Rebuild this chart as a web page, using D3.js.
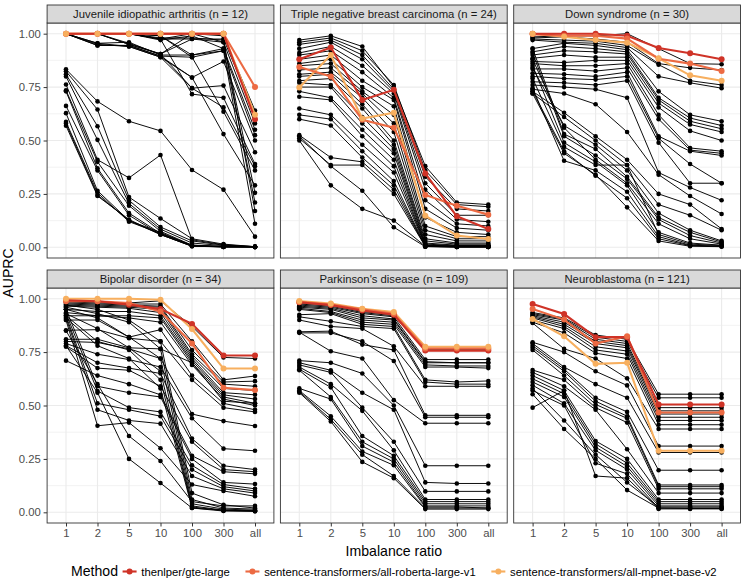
<!DOCTYPE html>
<html>
<head>
<meta charset="utf-8">
<script src="https://cdn.jsdelivr.net/npm/d3@7"></script>
<style>
body { margin: 0; background: #fff; }
text { font-family: "Liberation Sans", Arial, sans-serif; }
</style>
</head>
<body>
<svg id="chart" width="742" height="588"></svg>
<script>
// x categories and y ticks
var ratios = ["1", "2", "5", "10", "100", "300", "all"];
var yTicks = [0, 0.25, 0.5, 0.75, 1];
var yMinor = [0.125, 0.375, 0.625, 0.875];

var methods = ["thenlper/gte-large", "sentence-transformers/all-roberta-large-v1", "sentence-transformers/all-mpnet-base-v2"];
var methodColors = ["#cf3327", "#ec6a43", "#f7af5f"];

var panelTitles = [
    "Juvenile idiopathic arthritis (n = 12)",
    "Triple negative breast carcinoma (n = 24)",
    "Down syndrome (n = 30)",
    "Bipolar disorder (n = 34)",
    "Parkinson's disease (n = 109)",
    "Neuroblastoma (n = 121)"
];

// highlighted methods per panel, in the order of `methods`
var jiaTop = [
    [1, 1, 1, 1, 1, 1, 0.60],
    [1, 1, 1, 1, 1, 1, 0.75],
    [1, 1, 1, 1, 1, 1, 0.62]
];
var tnbcTop = [
    [0.88, 0.935, 0.69, 0.737, 0.346, 0.145, 0.086],
    [0.844, 0.80, 0.597, 0.56, 0.245, 0.195, 0.153],
    [0.748, 0.90, 0.603, 0.63, 0.148, 0.055, 0.039]
];
var downTop = [
    [1.0, 1.0, 1.0, 0.99, 0.933, 0.908, 0.88],
    [0.998, 0.99, 0.99, 0.977, 0.883, 0.86, 0.825],
    [1.0, 0.986, 0.97, 0.958, 0.885, 0.805, 0.78]
];
var bipolarTop = [
    [0.992, 0.988, 0.972, 0.952, 0.882, 0.734, 0.734],
    [0.988, 0.988, 0.98, 0.94, 0.79, 0.583, 0.572],
    [1.0, 1.0, 1.0, 0.995, 0.858, 0.673, 0.673]
];
var parkinsonTop = [
    [0.983, 0.97, 0.945, 0.925, 0.757, 0.757, 0.757],
    [0.985, 0.973, 0.95, 0.93, 0.767, 0.767, 0.767],
    [0.989, 0.977, 0.953, 0.938, 0.775, 0.775, 0.775]
];
var neuroTop = [
    [0.975, 0.928, 0.82, 0.82, 0.505, 0.505, 0.505],
    [0.952, 0.902, 0.79, 0.824, 0.467, 0.467, 0.467],
    [0.905, 0.824, 0.695, 0.70, 0.288, 0.288, 0.288]
];

// all other methods (black)
var jiaOther = [
    [1.00, 1.00, 1.00, 0.975, 1.00, 0.99, 0.64],
    [1.00, 1.00, 1.00, 0.975, 0.975, 0.975, 0.625],
    [1.00, 1.00, 0.955, 0.905, 1.00, 0.96, 0.58],
    [1.00, 0.955, 0.96, 0.90, 0.90, 0.93, 0.55],
    [1.00, 0.945, 0.945, 0.895, 0.89, 0.92, 0.525],
    [1.00, 0.95, 0.94, 0.89, 0.795, 0.87, 0.50],
    [1.00, 1.00, 0.95, 0.905, 0.745, 0.757, 0.445],
    [1.00, 1.00, 1.00, 0.975, 0.717, 0.70, 0.39],
    [1.00, 0.955, 0.94, 0.89, 0.745, 0.655, 0.38],
    [1.00, 1.00, 1.00, 0.99, 0.89, 0.635, 0.36],
    [1.00, 0.945, 0.945, 0.895, 0.795, 0.53, 0.29],
    [1.00, 1.00, 0.95, 0.905, 0.975, 0.96, 0.255],
    [1.00, 1.00, 1.00, 0.97, 0.99, 0.93, 0.21],
    [1.00, 1.00, 1.00, 0.98, 0.98, 0.97, 0.17],
    [1.00, 1.00, 1.00, 0.99, 0.90, 0.92, 0.11],
    [0.833, 0.683, 0.59, 0.545, 0.362, 0.27, 0.05],
    [0.824, 0.645, 0.235, 0.135, 0.04, 0.015, 0.003],
    [0.81, 0.567, 0.22, 0.095, 0.03, 0.01, 0.003],
    [0.80, 0.503, 0.205, 0.085, 0.02, 0.008, 0.002],
    [0.762, 0.41, 0.325, 0.432, 0.035, 0.012, 0.003],
    [0.735, 0.40, 0.195, 0.075, 0.01, 0.005, 0.002],
    [0.73, 0.37, 0.16, 0.065, 0.008, 0.003, 0.002],
    [0.662, 0.36, 0.15, 0.06, 0.005, 0.003, 0.002],
    [0.628, 0.265, 0.125, 0.06, 0.005, 0.002, 0.002],
    [0.587, 0.255, 0.12, 0.065, 0.01, 0.003, 0.002],
    [0.579, 0.245, 0.125, 0.07, 0.008, 0.002, 0.002],
    [0.569, 0.24, 0.13, 0.06, 0.006, 0.002, 0.002]
];
var tnbcOther = [
    [0.97, 0.99, 0.94, 0.75, 0.38, 0.21, 0.20],
    [0.96, 0.98, 0.92, 0.76, 0.36, 0.20, 0.19],
    [0.95, 0.97, 0.90, 0.74, 0.33, 0.18, 0.17],
    [0.93, 0.96, 0.88, 0.73, 0.30, 0.15, 0.15],
    [0.91, 0.94, 0.85, 0.72, 0.27, 0.13, 0.12],
    [0.90, 0.92, 0.82, 0.70, 0.22, 0.11, 0.10],
    [0.88, 0.90, 0.78, 0.69, 0.18, 0.09, 0.08],
    [0.86, 0.88, 0.75, 0.66, 0.14, 0.07, 0.06],
    [0.85, 0.86, 0.73, 0.62, 0.10, 0.05, 0.05],
    [0.83, 0.84, 0.72, 0.58, 0.08, 0.04, 0.04],
    [0.81, 0.82, 0.70, 0.54, 0.06, 0.03, 0.03],
    [0.80, 0.81, 0.67, 0.50, 0.04, 0.02, 0.02],
    [0.78, 0.79, 0.65, 0.48, 0.03, 0.015, 0.015],
    [0.77, 0.76, 0.61, 0.46, 0.02, 0.01, 0.01],
    [0.75, 0.75, 0.58, 0.44, 0.015, 0.008, 0.008],
    [0.73, 0.70, 0.55, 0.41, 0.01, 0.006, 0.006],
    [0.705, 0.69, 0.52, 0.38, 0.01, 0.005, 0.005],
    [0.65, 0.62, 0.48, 0.35, 0.008, 0.004, 0.004],
    [0.62, 0.60, 0.45, 0.31, 0.006, 0.003, 0.003],
    [0.60, 0.57, 0.42, 0.29, 0.005, 0.003, 0.003],
    [0.525, 0.42, 0.40, 0.27, 0.004, 0.002, 0.002],
    [0.51, 0.385, 0.385, 0.25, 0.004, 0.002, 0.002],
    [0.50, 0.29, 0.18, 0.125, 0.005, 0.002, 0.002],
    [0.52, 0.38, 0.265, 0.094, 0.003, 0.002, 0.002]
];
var downOther = [
    [0.985, 0.99, 0.99, 1.00, 0.93, 0.86, 0.857],
    [0.98, 0.985, 0.975, 0.96, 0.86, 0.84, 0.83],
    [0.975, 0.97, 0.965, 0.945, 0.855, 0.78, 0.76],
    [0.97, 0.96, 0.955, 0.935, 0.80, 0.77, 0.745],
    [0.93, 0.955, 0.945, 0.925, 0.73, 0.62, 0.59],
    [0.915, 0.94, 0.93, 0.915, 0.70, 0.605, 0.57],
    [0.90, 0.92, 0.915, 0.905, 0.69, 0.59, 0.555],
    [0.885, 0.90, 0.89, 0.89, 0.675, 0.575, 0.54],
    [0.87, 0.865, 0.875, 0.875, 0.655, 0.545, 0.50],
    [0.86, 0.85, 0.85, 0.86, 0.62, 0.465, 0.45],
    [0.835, 0.835, 0.825, 0.84, 0.60, 0.455, 0.44],
    [0.815, 0.81, 0.80, 0.82, 0.52, 0.45, 0.43],
    [0.80, 0.79, 0.785, 0.80, 0.51, 0.39, 0.30],
    [0.775, 0.77, 0.76, 0.78, 0.49, 0.30, 0.30],
    [0.76, 0.75, 0.74, 0.70, 0.35, 0.28, 0.22],
    [0.74, 0.72, 0.67, 0.54, 0.34, 0.24, 0.156],
    [0.73, 0.63, 0.52, 0.41, 0.25, 0.20, 0.086],
    [0.72, 0.61, 0.50, 0.385, 0.20, 0.15, 0.08],
    [0.84, 0.57, 0.48, 0.36, 0.16, 0.08, 0.03],
    [0.93, 0.53, 0.46, 0.33, 0.14, 0.07, 0.025],
    [0.91, 0.52, 0.43, 0.32, 0.13, 0.055, 0.02],
    [0.88, 0.56, 0.41, 0.30, 0.11, 0.04, 0.015],
    [0.85, 0.49, 0.40, 0.29, 0.07, 0.02, 0.01],
    [0.79, 0.47, 0.385, 0.385, 0.06, 0.015, 0.008],
    [0.745, 0.405, 0.36, 0.26, 0.05, 0.01, 0.005],
    [0.73, 0.45, 0.335, 0.23, 0.04, 0.008, 0.005],
    [0.72, 0.44, 0.34, 0.187, 0.03, 0.005, 0.003]
];
var bipolarOther = [
    [0.99, 0.985, 0.98, 0.99, 0.87, 0.725, 0.72],
    [0.985, 0.98, 0.975, 0.975, 0.80, 0.62, 0.638],
    [0.98, 0.975, 0.97, 0.965, 0.76, 0.61, 0.614],
    [0.975, 0.97, 0.965, 0.96, 0.74, 0.60, 0.59],
    [0.97, 0.965, 0.96, 0.95, 0.73, 0.58, 0.57],
    [0.965, 0.96, 0.955, 0.935, 0.72, 0.56, 0.55],
    [0.95, 0.94, 0.94, 0.92, 0.71, 0.55, 0.53],
    [0.935, 0.92, 0.92, 0.91, 0.70, 0.54, 0.51],
    [0.92, 0.92, 0.91, 0.89, 0.69, 0.53, 0.50],
    [0.90, 0.90, 0.82, 0.855, 0.64, 0.51, 0.48],
    [0.852, 0.855, 0.815, 0.80, 0.62, 0.49, 0.47],
    [0.81, 0.81, 0.77, 0.765, 0.70, 0.52, 0.51],
    [0.80, 0.795, 0.765, 0.72, 0.46, 0.427, 0.404],
    [0.79, 0.74, 0.715, 0.68, 0.44, 0.298, 0.288],
    [0.78, 0.70, 0.675, 0.65, 0.345, 0.218, 0.20],
    [0.775, 0.675, 0.665, 0.59, 0.33, 0.20, 0.19],
    [0.71, 0.64, 0.60, 0.55, 0.265, 0.19, 0.18],
    [0.95, 0.59, 0.56, 0.54, 0.25, 0.14, 0.132],
    [0.93, 0.568, 0.49, 0.47, 0.22, 0.13, 0.11],
    [0.92, 0.51, 0.48, 0.45, 0.20, 0.12, 0.10],
    [0.91, 0.48, 0.43, 0.415, 0.17, 0.11, 0.09],
    [0.90, 0.405, 0.42, 0.30, 0.13, 0.10, 0.075],
    [0.85, 0.60, 0.357, 0.24, 0.05, 0.03, 0.03],
    [0.78, 0.56, 0.25, 0.137, 0.02, 0.01, 0.005],
    [0.97, 0.95, 0.90, 0.80, 0.09, 0.035, 0.02],
    [0.96, 0.93, 0.89, 0.765, 0.06, 0.02, 0.015],
    [0.95, 0.91, 0.82, 0.72, 0.04, 0.015, 0.01],
    [0.93, 0.86, 0.77, 0.66, 0.03, 0.01, 0.008],
    [0.92, 0.80, 0.76, 0.62, 0.025, 0.008, 0.006],
    [0.91, 0.78, 0.72, 0.58, 0.02, 0.006, 0.005]
];
var parkinsonOther = [
    [0.98, 0.97, 0.94, 0.925, 0.765, 0.765, 0.765],
    [0.975, 0.965, 0.935, 0.92, 0.76, 0.76, 0.76],
    [0.97, 0.96, 0.93, 0.915, 0.715, 0.715, 0.715],
    [0.965, 0.955, 0.92, 0.905, 0.705, 0.70, 0.70],
    [0.96, 0.95, 0.91, 0.90, 0.70, 0.70, 0.70],
    [0.955, 0.94, 0.90, 0.89, 0.69, 0.685, 0.685],
    [0.95, 0.935, 0.89, 0.88, 0.68, 0.68, 0.675],
    [0.925, 0.93, 0.88, 0.87, 0.62, 0.61, 0.615],
    [0.915, 0.894, 0.87, 0.86, 0.61, 0.60, 0.60],
    [0.90, 0.87, 0.86, 0.777, 0.59, 0.59, 0.59],
    [0.845, 0.848, 0.785, 0.76, 0.454, 0.454, 0.454],
    [0.84, 0.84, 0.80, 0.708, 0.445, 0.445, 0.445],
    [0.843, 0.754, 0.72, 0.525, 0.417, 0.417, 0.417],
    [0.71, 0.70, 0.65, 0.50, 0.218, 0.218, 0.218],
    [0.70, 0.665, 0.56, 0.48, 0.14, 0.135, 0.135],
    [0.69, 0.655, 0.49, 0.33, 0.098, 0.098, 0.098],
    [0.68, 0.60, 0.475, 0.29, 0.06, 0.06, 0.06],
    [0.67, 0.585, 0.357, 0.265, 0.05, 0.05, 0.05],
    [0.665, 0.54, 0.33, 0.25, 0.04, 0.04, 0.04],
    [0.58, 0.53, 0.31, 0.235, 0.03, 0.03, 0.03],
    [0.57, 0.45, 0.285, 0.22, 0.025, 0.025, 0.02],
    [0.565, 0.435, 0.27, 0.17, 0.02, 0.02, 0.02],
    [0.56, 0.425, 0.236, 0.16, 0.015, 0.015, 0.015]
];
var neuroOther = [
    [0.935, 0.91, 0.83, 0.81, 0.553, 0.553, 0.553],
    [0.93, 0.905, 0.82, 0.80, 0.536, 0.536, 0.536],
    [0.925, 0.90, 0.81, 0.79, 0.49, 0.49, 0.49],
    [0.92, 0.89, 0.80, 0.78, 0.475, 0.475, 0.475],
    [0.915, 0.88, 0.79, 0.77, 0.46, 0.46, 0.46],
    [0.91, 0.87, 0.775, 0.755, 0.445, 0.445, 0.445],
    [0.90, 0.86, 0.76, 0.74, 0.43, 0.43, 0.43],
    [0.89, 0.84, 0.745, 0.72, 0.41, 0.41, 0.41],
    [0.886, 0.765, 0.72, 0.627, 0.39, 0.39, 0.39],
    [0.796, 0.75, 0.66, 0.594, 0.31, 0.31, 0.31],
    [0.79, 0.68, 0.60, 0.536, 0.28, 0.28, 0.28],
    [0.78, 0.67, 0.536, 0.47, 0.197, 0.197, 0.197],
    [0.77, 0.66, 0.52, 0.45, 0.128, 0.128, 0.128],
    [0.76, 0.64, 0.505, 0.44, 0.12, 0.12, 0.12],
    [0.666, 0.62, 0.49, 0.42, 0.11, 0.11, 0.11],
    [0.655, 0.59, 0.48, 0.295, 0.09, 0.09, 0.09],
    [0.64, 0.57, 0.334, 0.25, 0.06, 0.06, 0.06],
    [0.625, 0.555, 0.32, 0.23, 0.05, 0.05, 0.05],
    [0.61, 0.54, 0.305, 0.215, 0.04, 0.04, 0.04],
    [0.595, 0.51, 0.29, 0.20, 0.03, 0.03, 0.03],
    [0.58, 0.43, 0.27, 0.14, 0.025, 0.025, 0.025],
    [0.553, 0.39, 0.25, 0.104, 0.02, 0.02, 0.02],
    [0.49, 0.57, 0.17, 0.16, 0.016, 0.016, 0.016],
    [0.57, 0.50, 0.23, 0.18, 0.02, 0.018, 0.018]
];

var panels = [
    {title: panelTitles[0], other: jiaOther, top: jiaTop},
    {title: panelTitles[1], other: tnbcOther, top: tnbcTop},
    {title: panelTitles[2], other: downOther, top: downTop},
    {title: panelTitles[3], other: bipolarOther, top: bipolarTop},
    {title: panelTitles[4], other: parkinsonOther, top: parkinsonTop},
    {title: panelTitles[5], other: neuroOther, top: neuroTop}
];

// layout
var pw = 226.8, ph = 235, colStep = 233.3, rowStep = 265;
var left0 = 47.1, top0 = 23, stripH = 18;
var small = 11.3, big = 14.1;

var svg = d3.select("#chart");

var x = d3.scalePoint().domain(ratios).range([0, pw]).padding(0.6);
var y = d3.scaleLinear().domain([-0.05, 1.05]).range([ph, 0]);

var line = d3.line()
    .x(function(d, i) { return x(ratios[i]); })
    .y(function(d) { return y(d); });

panels.forEach(function(p, k) {
    var col = k % 3, row = Math.floor(k / 3);
    var g = svg.append("g")
        .attr("transform", "translate(" + (left0 + col * colStep) + "," + (top0 + row * rowStep) + ")");

    // grid
    g.selectAll(".minor").data(yMinor).enter().append("line")
        .attr("x1", 0).attr("x2", pw)
        .attr("y1", function(d) { return y(d); }).attr("y2", function(d) { return y(d); })
        .attr("stroke", "#ebebeb").attr("stroke-width", 0.6);
    g.selectAll(".major").data(yTicks).enter().append("line")
        .attr("x1", 0).attr("x2", pw)
        .attr("y1", function(d) { return y(d); }).attr("y2", function(d) { return y(d); })
        .attr("stroke", "#ebebeb").attr("stroke-width", 1.1);
    g.selectAll(".vgrid").data(ratios).enter().append("line")
        .attr("x1", function(d) { return x(d); }).attr("x2", function(d) { return x(d); })
        .attr("y1", 0).attr("y2", ph)
        .attr("stroke", "#ebebeb").attr("stroke-width", 1.1);

    // black lines + points
    g.selectAll(".oline").data(p.other).enter().append("path")
        .attr("d", line).attr("fill", "none")
        .attr("stroke", "#000").attr("stroke-width", 0.95);
    p.other.forEach(function(s) {
        g.selectAll(null).data(s).enter().append("circle")
            .attr("cx", function(d, i) { return x(ratios[i]); })
            .attr("cy", function(d) { return y(d); })
            .attr("r", 2.3).attr("fill", "#000");
    });

    // highlighted methods: lines with red on top, points with light on top
    [2, 1, 0].forEach(function(m) {
        g.append("path").datum(p.top[m]).attr("d", line).attr("fill", "none")
            .attr("stroke", methodColors[m]).attr("stroke-width", 2.1);
    });
    [0, 1, 2].forEach(function(m) {
        g.selectAll(null).data(p.top[m]).enter().append("circle")
            .attr("cx", function(d, i) { return x(ratios[i]); })
            .attr("cy", function(d) { return y(d); })
            .attr("r", 3).attr("fill", methodColors[m]);
    });

    // border
    g.append("rect").attr("x", 0).attr("y", 0).attr("width", pw).attr("height", ph)
        .attr("fill", "none").attr("stroke", "#333").attr("stroke-width", 0.9);

    // strip
    g.append("rect").attr("x", 0).attr("y", -stripH).attr("width", pw).attr("height", stripH)
        .attr("fill", "#d9d9d9").attr("stroke", "#333").attr("stroke-width", 0.9);
    g.append("text").attr("x", pw / 2).attr("y", -stripH / 2 + 4)
        .attr("text-anchor", "middle").attr("font-size", small).attr("fill", "#1a1a1a")
        .text(p.title);

    // axes
    if (col === 0) {
        var ay = g.append("g").call(d3.axisLeft(y).tickValues(yTicks)
            .tickFormat(d3.format(".2f")).tickSize(3.5).tickPadding(2.8));
        ay.select(".domain").remove();
        ay.selectAll("line").attr("stroke", "#333");
        ay.selectAll("text").attr("font-size", small).attr("fill", "#4d4d4d")
            .attr("font-family", "Liberation Sans, Arial, sans-serif");
    }
    if (row === 1) {
        var ax = g.append("g").attr("transform", "translate(0," + ph + ")")
            .call(d3.axisBottom(x).tickSize(3.5).tickPadding(2.8));
        ax.select(".domain").remove();
        ax.selectAll("line").attr("stroke", "#333");
        ax.selectAll("text").attr("font-size", small).attr("fill", "#4d4d4d")
            .attr("font-family", "Liberation Sans, Arial, sans-serif");
    }
});

// axis titles
svg.append("text").attr("x", left0 + (2 * colStep + pw) / 2).attr("y", 555.5)
    .attr("text-anchor", "middle").attr("font-size", big).attr("fill", "#000")
    .text("Imbalance ratio");
svg.append("text").attr("transform", "translate(13," + (top0 + (rowStep + ph) / 2) + ") rotate(-90)")
    .attr("text-anchor", "middle").attr("font-size", big).attr("fill", "#000")
    .text("AUPRC");

// legend
var leg = svg.append("g");
var lx = 0, ly = 576;
var lt = leg.append("text").attr("x", lx).attr("y", ly).attr("font-size", big).text("Method");
lx += lt.node().getComputedTextLength() + 3;
methods.forEach(function(m, i) {
    var kx = lx + 8.6;
    leg.append("line").attr("x1", kx - 7).attr("x2", kx + 7).attr("y1", ly - 4.5).attr("y2", ly - 4.5)
        .attr("stroke", methodColors[i]).attr("stroke-width", 2.1);
    leg.append("circle").attr("cx", kx).attr("cy", ly - 4.5).attr("r", 3).attr("fill", methodColors[i]);
    lx += 17.3 + 3;
    var t = leg.append("text").attr("x", lx).attr("y", ly).attr("font-size", small).attr("fill", "#000").text(m);
    lx += t.node().getComputedTextLength() + 14;
});
var legW = lx - 14;
leg.attr("transform", "translate(" + (left0 + (2 * colStep + pw) / 2 - legW / 2) + ",0)");
</script>
</body>
</html>
